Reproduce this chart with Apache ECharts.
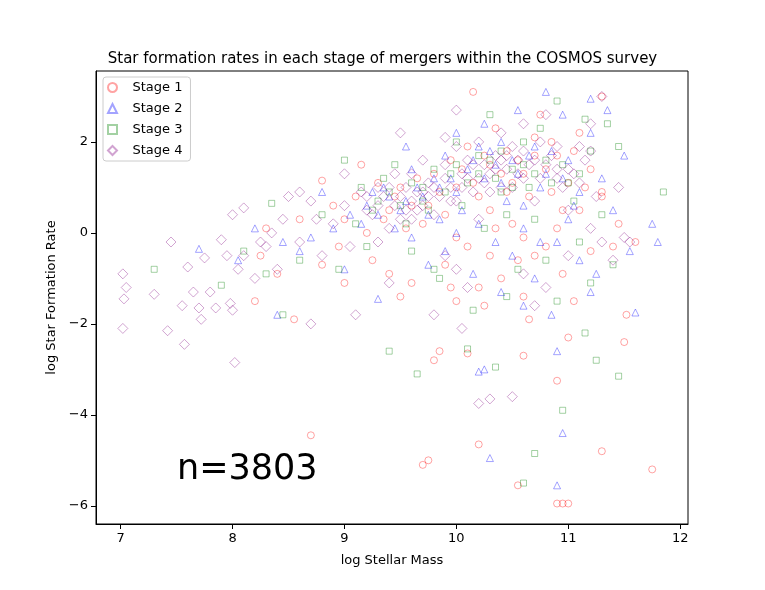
<!DOCTYPE html>
<html><head><meta charset="utf-8">
<script src="https://cdn.jsdelivr.net/npm/echarts@6/dist/echarts.min.js"></script>
<style>html,body{margin:0;background:#fff}#vis{width:765px;height:590px}</style>
</head><body><div id="vis"></div>
<script>
// points, [log stellar mass, log SFR]
const stage1 = [[8.7,-4.45],[9.7,-5.1],[9.75,-5.0],[10.2,-4.65],[10.55,-5.55],[10.9,-5.95],[10.95,-5.95],[11.0,-5.95],[10.9,-3.25],[11.3,-4.8],[11.75,-5.2],
  [9.8,-2.8],[9.85,-2.6],[10.1,-2.65],[10.6,-2.7],[11.5,-2.4],[11.52,-1.8],[11.3,3.0],[10.15,3.1],[8.55,-1.9],[8.2,-1.5],[8.3,0.1],[8.8,1.15],
  [9.0,-1.1],[9.5,-1.4],[9.6,-1.1],[9.9,-0.7],[10.0,-1.5],[10.2,-1.2],[10.4,-1.0],[10.6,-1.4],[10.7,-0.5],[10.8,-0.3],[11.0,-2.3],[11.1,0.5],
  [11.2,-0.4],[10.5,0.2],[10.3,0.5],[9.7,0.2],[9.2,0.0],[8.9,0.6],[10.0,1.0],[10.3,1.5],[10.6,1.3],[10.9,1.7],[11.2,1.4],[11.3,0.8],[10.1,1.9],
  [9.5,1.0],[8.6,0.3],[8.25,-0.5],[8.4,-0.9],[8.8,-0.7],[9.1,0.8],[9.3,1.1],[9.4,0.5],[9.8,1.3],[10.2,0.8],[10.45,1.8],[10.7,2.1],[10.85,0.9],
  [11.0,1.1],[11.3,0.9],[11.4,-0.3],[10.95,-0.9],[10.55,-0.6],[10.1,-0.3],[9.9,0.4],[9.6,0.6],[9.0,0.3],[8.95,-0.3],[9.25,-0.6],[10.35,2.3],
  [10.75,2.6],[11.1,2.2],[11.45,0.2],[11.6,-0.2],[10.25,-1.6],[10.65,-1.9],[11.05,-1.5],[9.95,-1.2],[9.4,-0.9],[10.0,-0.1],[10.45,0.9],[10.9,0.1],
  [9.45,0.8],[9.65,1.2],[9.85,0.9],[10.05,1.4],[10.25,1.7],[10.4,1.3],[10.55,1.6],[10.65,0.8],[10.8,1.4],[11.05,1.8],[9.35,0.3],[9.55,0.1],
  [9.75,0.6],[9.95,1.6],[10.15,1.1],[10.35,0.1],[10.5,1.1],[10.7,1.7],[10.85,2.0],[11.15,1.0],[10.95,0.5],[10.6,-0.1],[10.3,-0.5],[9.15,1.5]];
const stage2 = [[10.3,-4.95],[10.9,-5.55],[10.95,-4.4],[10.25,-3.0],[10.2,-3.05],[10.9,-2.6],[11.2,-1.3],[11.6,-1.75],[11.75,0.2],[11.8,-0.2],
  [11.2,2.95],[10.8,3.1],[10.0,2.2],[8.4,-1.8],[8.2,0.1],[9.3,-1.45],[9.6,-0.1],[10.5,-0.5],[10.7,-1.0],[11.0,0.3],[7.7,-0.35],[8.05,-0.6],
  [8.45,-0.2],[8.6,-0.4],[8.9,0.1],[9.0,-0.8],[9.2,0.6],[9.35,1.0],[9.5,0.5],[9.7,0.8],[9.8,1.2],[9.9,-0.4],[10.0,0.9],[10.1,1.4],[10.2,0.2],
  [10.3,1.8],[10.4,1.1],[10.5,1.6],[10.6,0.6],[10.7,1.9],[10.8,1.3],[10.9,-0.2],[11.0,1.6],[11.1,0.9],[11.2,2.2],[11.3,1.2],[11.4,0.5],
  [11.5,1.7],[11.55,-0.4],[10.6,-1.6],[10.4,-1.3],[10.15,-0.9],[9.75,-0.7],[9.45,0.1],[9.6,1.4],[9.9,1.7],[10.25,2.4],[10.55,2.7],[10.95,2.6],
  [11.35,2.7],[11.1,-0.6],[10.75,-0.2],[10.35,-0.2],[9.85,0.3],[9.15,0.2],[8.8,0.9],[8.7,-0.1],[11.25,-0.9],[10.85,-1.8],[9.55,1.9],
  [9.3,0.4],[9.4,0.8],[9.55,0.7],[9.65,1.0],[9.75,0.4],[9.85,1.0],[9.95,1.2],[10.05,0.5],[10.15,1.6],[10.25,1.2],[10.35,1.5],[10.45,0.7],
  [10.55,1.3],[10.65,1.7],[10.75,1.0],[10.85,1.8],[10.95,1.2],[11.05,0.6],[10.2,1.9],[10.4,2.0],[9.25,0.9],[9.05,0.4],[10.6,0.1],[10.0,0.0]];
const stage3 = [[9.4,-2.6],[9.65,-3.1],[10.1,-2.55],[10.35,-2.95],[10.6,-5.5],[10.7,-4.85],[10.95,-3.9],[11.45,-3.15],[11.15,-2.2],[11.25,-2.8],
  [11.85,0.9],[7.3,-0.8],[8.35,0.65],[8.45,-1.8],[11.35,2.4],[11.45,1.9],[10.9,-1.5],[7.9,-1.15],[8.1,-0.4],[8.3,-0.9],[8.6,-0.6],[8.8,0.4],
  [9.0,1.6],[9.1,0.2],[9.3,0.7],[9.45,1.5],[9.55,0.2],[9.7,1.0],[9.8,-0.8],[9.95,1.3],[10.05,0.6],[10.2,1.7],[10.3,2.6],[10.4,0.9],[10.5,1.4],
  [10.6,2.0],[10.7,0.3],[10.8,1.6],[10.9,2.9],[11.0,1.1],[11.1,-0.2],[11.2,1.8],[11.3,0.4],[11.4,-0.7],[10.45,-1.4],[10.15,-1.7],[9.85,-1.0],
  [9.6,-0.4],[9.2,-0.3],[8.95,-0.8],[10.0,2.0],[10.65,1.0],[11.05,0.7],[10.25,0.1],[9.75,0.5],[10.55,-0.8],[11.2,-1.1],[10.8,-0.6],[9.35,1.2],
  [10.35,1.2],[10.75,2.3],[11.15,2.5],[9.4,0.9],[9.5,0.6],[9.6,1.1],[9.7,0.7],[9.8,1.4],[9.9,0.9],[10.0,1.5],[10.1,1.1],[10.2,1.3],[10.3,1.6],
  [10.4,1.8],[10.5,1.0],[10.6,1.5],[10.7,1.3],[10.85,1.1],[10.95,1.5],[9.25,0.5],[9.15,1.0],[10.45,0.4],[11.1,1.3]];
const stage4 = [[7.02,-0.9],[7.05,-1.2],[7.03,-1.45],[7.02,-2.1],[7.3,-1.35],[7.42,-2.15],[7.45,-0.2],[7.55,-1.6],[7.57,-2.45],[7.6,-0.75],
  [7.65,-1.3],[7.7,-1.65],[7.72,-1.9],[7.75,-0.55],[7.8,-1.3],[7.85,-1.65],[7.9,-0.15],[7.95,-0.5],[7.98,-1.55],[8.0,-1.7],[8.02,-2.85],
  [8.0,0.4],[8.1,0.55],[8.05,-0.8],[8.1,-0.5],[8.2,-1.0],[8.3,-0.3],[8.35,0.0],[8.4,-0.8],[8.5,0.8],[8.6,0.9],[8.7,-2.0],[8.7,0.7],[8.8,-0.5],
  [9.0,1.3],[9.1,-1.8],[9.2,0.5],[9.3,1.0],[9.4,-1.1],[9.5,2.2],[9.6,0.7],[9.7,0.9],[9.8,-1.8],[9.9,1.5],[10.0,2.7],[10.05,-2.1],[10.1,1.2],
  [10.2,-3.75],[10.3,-3.65],[10.4,1.6],[10.5,-3.6],[10.6,1.8],[10.7,-1.6],[10.8,2.6],[10.9,1.4],[11.0,0.5],[11.1,1.9],[11.2,2.4],[11.3,3.0],
  [11.4,-0.6],[11.45,1.0],[11.5,-0.1],[11.55,-0.2],[11.2,0.1],[10.2,0.3],[9.9,-0.5],[9.5,0.3],[9.3,-0.2],[8.9,0.2],[9.0,0.6],[9.15,0.9],
  [9.25,0.4],[9.35,0.8],[9.45,0.6],[9.55,1.0],[9.65,0.5],[9.75,1.1],[9.85,0.8],[9.95,1.0],[10.05,1.3],[10.15,1.5],[10.25,1.1],[10.35,1.4],
  [10.45,1.7],[10.55,1.3],[10.65,1.5],[10.75,1.2],[10.85,1.7],[10.95,1.0],[11.05,1.3],[11.15,1.6],[11.25,0.8],[9.6,1.3],[9.8,0.4],[10.0,0.7],
  [10.3,0.9],[10.5,1.0],[10.7,0.7],[10.2,2.0],[10.4,2.2],[9.7,1.6],[8.6,-0.2],[8.45,0.3],[8.25,-0.2],[8.75,0.3],[9.05,-0.3],[10.1,-1.2],
  [10.6,-0.9],[11.0,-0.5],[10.8,-1.2],[11.3,-0.2],[10.0,-0.8],[9.4,0.1],[9.9,2.1],[10.6,2.4],
  [9.3,0.6],[9.4,1.0],[9.5,0.8],[9.55,0.5],[9.65,0.9],[9.7,0.6],[9.8,1.0],[9.9,1.2],[9.95,0.7],[10.05,1.0],[10.1,1.6],[10.2,1.2],[10.3,1.3],
  [10.35,1.7],[10.45,1.4],[10.5,1.9],[10.6,1.2],[10.7,1.6],[10.8,1.5],[10.9,1.9],[11.0,1.4],[11.1,1.1],[9.6,0.3],[9.75,0.8],[10.0,1.9],[10.25,1.5],
  [10.4,1.0],[10.55,1.6],[10.9,1.2],[10.15,0.9],[9.2,0.8],[9.45,1.3],[10.75,2.0],[11.2,1.8]];
const xTicks = [7, 8, 9, 10, 11, 12];
const yTicks = [-6, -4, -2, 0, 2];

const chart = echarts.init(document.getElementById('vis'), null, { renderer: 'canvas' });
const font = 'DejaVu Sans';
function stage (name, data, symbol, color, size) {
  return {
    name, type: 'scatter', data, symbol, symbolSize: size,
    itemStyle: { color: 'rgba(0,0,0,0)', borderColor: color, borderWidth: 1 }
  };
}
chart.setOption({
  animation: false,
  textStyle: { fontFamily: font },
  title: { text: 'Star formation rates in each stage of mergers within the COSMOS survey', left: 'center', top: 47,
    textStyle: { fontSize: 15, fontWeight: 'normal', color: '#000', fontFamily: font } },
  grid: { left: 96, right: 77, top: 71, bottom: 66 },
  legend: {
    left: 103, top: 77, orient: 'vertical', itemGap: 8, itemWidth: 30, itemHeight: 9,
    padding: [4, 8, 4, 4], borderColor: '#ccc', borderWidth: 1, borderRadius: 3,
    textStyle: { fontSize: 13, color: '#000', fontFamily: font },
    data: [
      { name: 'Stage 1', icon: 'path://M10,0A4,4,0,1,1,9.99,0Z' },
      { name: 'Stage 2', icon: 'path://M10,0L14,8L6,8Z' },
      { name: 'Stage 3', icon: 'path://M6,0L14,0L14,8L6,8Z' },
      { name: 'Stage 4', icon: 'path://M10,-1L15,4L10,9L5,4Z' }
    ]
  },
  xAxis: {
    type: 'value', min: 6.78, max: 12.07, name: 'log Stellar Mass', nameLocation: 'middle', nameGap: 30,
    nameTextStyle: { fontSize: 13, color: '#000' }, splitLine: { show: false },
    axisLine: { onZero: false, lineStyle: { color: '#000' } }, axisTick: { customValues: xTicks, lineStyle: { color: '#000' } },
    axisLabel: { customValues: xTicks, color: '#000', fontSize: 13 }
  },
  yAxis: {
    type: 'value', min: -6.4, max: 3.56, name: 'log Star Formation Rate', nameLocation: 'middle', nameGap: 35,
    nameTextStyle: { fontSize: 13, color: '#000' }, splitLine: { show: false },
    axisLine: { onZero: false, lineStyle: { color: '#000' } }, axisTick: { customValues: yTicks, lineStyle: { color: '#000' } },
    axisLabel: { customValues: yTicks, color: '#000', fontSize: 13, formatter: v => String(v).replace('-', '\u2212') }
  },
  graphic: [
    { type: 'rect', shape: { x: 96, y: 71, width: 592, height: 453 }, style: { fill: 'none', stroke: '#000', lineWidth: 1 }, silent: true, z: 10 },
    { type: 'text', left: 177, top: 452, style: { text: 'n=3803', fontSize: 35, fill: '#000', fontFamily: font } }
  ],
  series: [
    stage('Stage 1', stage1, 'circle', 'rgba(255,0,0,0.45)', 7),
    stage('Stage 2', stage2, 'triangle', 'rgba(0,0,255,0.45)', 7),
    stage('Stage 3', stage3, 'rect', 'rgba(0,128,0,0.45)', 6),
    stage('Stage 4', stage4, 'diamond', 'rgba(128,0,128,0.45)', 10)
  ]
});
</script></body></html>
